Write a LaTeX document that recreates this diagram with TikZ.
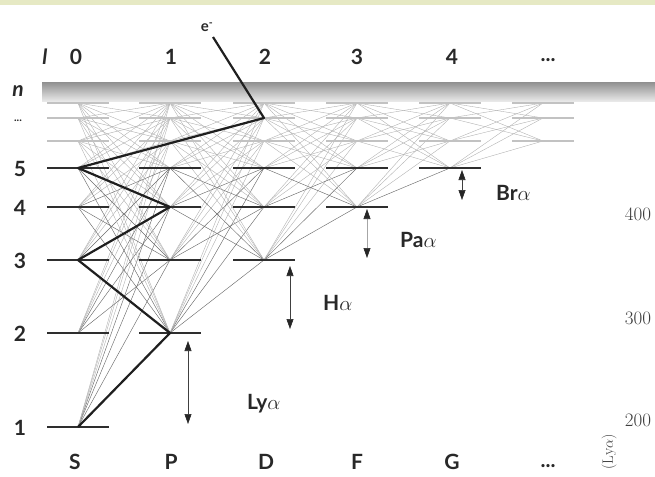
\documentclass[tikz,border=0pt]{standalone}
\usepackage{fontspec}
\newfontfamily\labfont{Lato}
\usetikzlibrary{arrows.meta}
\definecolor{topstrip}{RGB}{230,233,196}
\definecolor{labelc}{RGB}{40,40,40}
\definecolor{numc}{RGB}{60,60,60}
\begin{document}
\begin{tikzpicture}[x=1pt,y=-1pt,
  lab/.style={font=\labfont\fontsize{21}{24}\selectfont\bfseries, text=labelc, inner sep=0pt},
  ilab/.style={font=\labfont\fontsize{21}{24}\selectfont\bfseries\itshape, text=labelc, inner sep=0pt},
  axnum/.style={font=\fontsize{19}{21}\selectfont, text=numc, inner sep=0pt},
  transdark/.style={draw=black!58, line width=0.45pt},
  translight/.style={draw=black!30, line width=0.4pt},
  leveldark/.style={draw=black!82, line width=2pt},
  levellight/.style={draw=black!24, line width=1.6pt},
  path e/.style={draw=black!88, line width=2.2pt, line join=round},
  dbl/.style={{Triangle[width=7pt,length=10pt,color=black!85]}-{Triangle[width=7pt,length=10pt,color=black!85]}, line width=0.6pt, draw=black!75}
]
\useasboundingbox (0,0) rectangle (655,476);
\fill[topstrip] (0,0) rectangle (655,5);
\shade[top color=black!42, bottom color=black!7] (42,83) rectangle (655,102);

% level positions
\foreach \l/\x in {0/78,1/170,2/264,3/357,4/450,5/543}{
  \foreach \n/\y in {1/427,2/333,3/260,4/207,5/168,6/141,7/118,8/103}{
    \coordinate (L\l-\n) at (\x,\y);
  }
}

% transitions (Delta l = +-1)
\foreach \l in {0,...,4}{
  \pgfmathtruncatemacro{\lp}{\l+1}
  \foreach \n in {1,...,8}{
    \foreach \m in {1,...,8}{
      \ifnum\n>\l \ifnum\m>\lp \ifnum\n=\m\else
        \pgfmathtruncatemacro{\mx}{max(\n,\m)}
        \ifnum\mx>5 \draw[translight] (L\l-\n) -- (L\lp-\m); \else \draw[transdark] (L\l-\n) -- (L\lp-\m); \fi
      \fi\fi\fi
    }
  }
}

% level bars
\foreach \l in {0,...,5}{
  \foreach \n in {1,...,8}{
    \ifnum\n>\l
      \ifnum\n>5
        \draw[levellight] ([xshift=-31pt]L\l-\n) -- ([xshift=31pt]L\l-\n);
      \else
        \draw[leveldark] ([xshift=-31pt]L\l-\n) -- ([xshift=31pt]L\l-\n);
      \fi
    \fi
  }
}

% electron cascade
\coordinate (e) at (213,37);
\node[font=\labfont\fontsize{15}{16}\selectfont\bfseries, text=labelc, inner sep=0pt] (elab) at (207,27) {e\textsuperscript{-}};
\draw[path e] (e) -- (L2-7) -- (L0-5) -- (L1-4) -- (L0-3) -- (L1-2) -- (L0-1);

% l labels
\node[ilab] (lsym) at (45,57) {l};
\node[lab] (c0) at (76,57) {0};
\node[lab] (c1) at (171,57) {1};
\node[lab] (c2) at (265,57) {2};
\node[lab] (c3) at (357,57) {3};
\node[lab] (c4) at (452,57) {4};
\node[lab] (c5) at (548,60) {...};

% n labels
\node[ilab] (nsym) at (18,91) {n};
\node[lab, font=\labfont\fontsize{11}{12}\selectfont\bfseries] (ndots) at (18,121) {...};
\node[lab] (n5) at (20,169) {5};
\node[lab] (n4) at (20,208) {4};
\node[lab] (n3) at (20,261) {3};
\node[lab] (n2) at (20,334) {2};
\node[lab] (n1) at (20,428) {1};

% bottom labels
\node[lab] (bS) at (75,462) {S};
\node[lab] (bP) at (171,462) {P};
\node[lab] (bD) at (266,462) {D};
\node[lab] (bF) at (357,462) {F};
\node[lab] (bG) at (452,462) {G};
\node[lab] (bdots) at (548,466) {...};

% transition arrows
\coordinate (ly1) at (188,341); \coordinate (ly2) at (188,424);
\draw[dbl] (ly1) -- (ly2);
\node[lab, anchor=base west] (lya) at (247,409) {Ly$\alpha$};
\coordinate (ha1) at (290,266); \coordinate (ha2) at (290,329);
\draw[dbl] (ha1) -- (ha2);
\node[lab, anchor=base west] (hal) at (323,310) {H$\alpha$};
\coordinate (pa1) at (367,209); \coordinate (pa2) at (367,258);
\draw[dbl, draw=black!35] (pa1) -- (pa2);
\node[lab, anchor=base west] (pal) at (400,247) {Pa$\alpha$};
\coordinate (br1) at (462,170); \coordinate (br2) at (462,200);
\draw[dbl] (br1) -- (br2);
\node[lab, anchor=base west] (brl) at (496,200) {Br$\alpha$};

% right axis fragments
\node[axnum] (a400) at (638,214) {400};
\node[axnum] (a300) at (638,318) {300};
\node[axnum] (a200) at (638,420) {200};
\node[font=\fontsize{15}{17}\selectfont, text=numc, inner sep=0pt, rotate=90, anchor=east] (lyax) at (609,434) {(Ly$\alpha$)};
\end{tikzpicture}
\end{document}
